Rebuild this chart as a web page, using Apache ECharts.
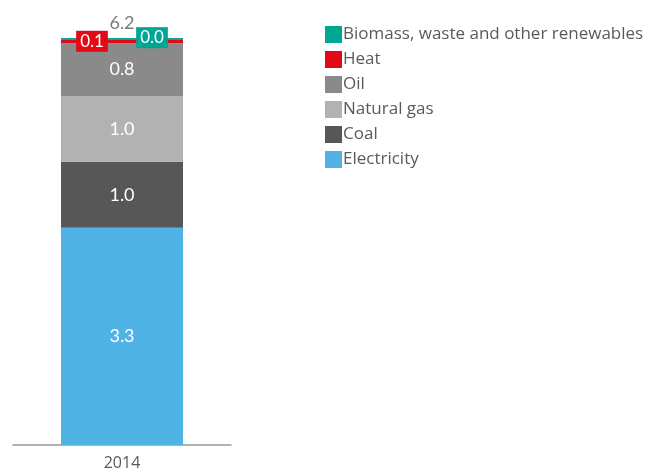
<!DOCTYPE html>
<html>
<head>
<meta charset="utf-8">
<script src="https://cdn.jsdelivr.net/npm/echarts@6/dist/echarts.min.js"></script>
<style>
  html, body { margin: 0; padding: 0; background: #fff; }
  #chart { width: 646px; height: 472px; }
</style>
</head>
<body>
<div id="chart"></div>
<script>
// Final energy consumption by source, 2014
const years = ['2014'];
const electricity = [3.3];
const coal = [1.0];
const naturalGas = [1.0];
const oil = [0.8];
const heat = [0.06];
const biomass = [0.02];

const seriesNames = ['Electricity', 'Coal', 'Natural gas', 'Oil', 'Heat', 'Biomass, waste and other renewables'];
const seriesValues = [electricity, coal, naturalGas, oil, heat, biomass];
const seriesColors = ['#4FB3E6', '#575757', '#B2B2B2', '#8A8A8A', '#E30A17', '#00A694'];

const totals = years.map((_, i) => seriesValues.reduce((s, arr) => s + arr[i], 0));

const FONT = 'Lato';
const TEXT = '#5a5a5a';

const fmt = p => Number(p.value).toFixed(1);

const series = seriesNames.map((name, k) => {
  const s = {
    name,
    type: 'bar',
    stack: 'total',
    barWidth: 122,
    data: seriesValues[k],
    itemStyle: { color: seriesColors[k] },
    label: {
      show: true,
      position: 'inside',
      formatter: fmt,
      color: '#ffffff',
      fontFamily: FONT,
      fontSize: 18
    }
  };
  if (name === 'Heat' || name.startsWith('Biomass')) {
    s.label = {
      show: true,
      position: 'inside',
      offset: [name === 'Heat' ? -30 : 30, name === 'Heat' ? 0 : -1],
      formatter: fmt,
      color: '#ffffff',
      backgroundColor: seriesColors[k],
      padding: [3, 4, 1, 4],
      fontFamily: FONT,
      fontSize: 17
    };
  }
  return s;
});

// Stack total written just above the bar
series.push({
  name: 'Total',
  type: 'scatter',
  data: totals,
  symbolSize: 0,
  itemStyle: { color: 'transparent' },
  label: {
    show: true,
    position: 'top',
    distance: 6,
    formatter: p => Number(p.value).toFixed(1),
    color: TEXT,
    fontFamily: FONT,
    fontSize: 18
  },
  tooltip: { show: false }
});

const chart = echarts.init(document.getElementById('chart'));
chart.setOption({
  animation: false,
  legend: {
    orient: 'vertical',
    left: 320,
    top: 21,
    itemWidth: 17,
    itemHeight: 17,
    itemGap: 8,
    icon: 'rect',
    data: seriesNames.slice().reverse(),
    textStyle: { color: TEXT, fontFamily: 'Open Sans', fontSize: 17, padding: [0, 0, 0, -4] }
  },
  grid: { left: 13, top: 38, width: 218, bottom: 27, containLabel: false },
  xAxis: {
    type: 'category',
    data: years,
    axisLine: { lineStyle: { color: '#999999', width: 1.5 } },
    axisTick: { show: false },
    axisLabel: { color: TEXT, fontFamily: 'Open Sans', fontSize: 16, margin: 10 }
  },
  yAxis: {
    type: 'value',
    min: 0,
    max: Math.max(...totals),
    show: false,
    splitLine: { show: false }
  },
  series
});
</script>
</body>
</html>
